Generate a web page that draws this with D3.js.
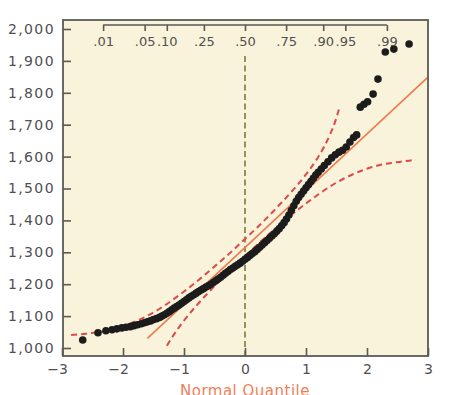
<!DOCTYPE html>
<html>
<head>
<meta charset="utf-8">
<script src="https://cdn.jsdelivr.net/npm/d3@7"></script>
<style>
  body { margin: 0; background: #fff; }
  text { font-family: "DejaVu Sans", sans-serif; }
</style>
</head>
<body>
<script>
const quantiles = [
  -2.66, -2.41, -2.28, -2.18, -2.10, -2.02, -1.95, -1.88, -1.82, -1.76,
  -1.70, -1.65, -1.60, -1.55, -1.50, -1.45, -1.40, -1.36, -1.32, -1.28,
  -1.24, -1.20, -1.16, -1.12, -1.08, -1.04, -1.00, -0.96, -0.92, -0.88,
  -0.84, -0.80, -0.76, -0.72, -0.68, -0.64, -0.60, -0.56, -0.52, -0.48,
  -0.44, -0.40, -0.36, -0.32, -0.28, -0.24, -0.20, -0.16, -0.12, -0.08,
  -0.04, 0.00, 0.04, 0.08, 0.12, 0.16, 0.20, 0.24, 0.28, 0.32,
  0.36, 0.40, 0.44, 0.48, 0.52, 0.56, 0.60, 0.64, 0.68, 0.72,
  0.76, 0.80, 0.84, 0.88, 0.92, 0.96, 1.00, 1.04, 1.08, 1.12,
  1.16, 1.20, 1.25, 1.30, 1.36, 1.42, 1.48, 1.54, 1.60, 1.66,
  1.72, 1.78, 1.83, 1.89, 1.95, 2.01, 2.10, 2.18, 2.30, 2.44, 2.69
];
const values = [
  1025, 1048, 1054, 1057, 1060, 1063, 1065, 1067, 1070, 1073,
  1076, 1079, 1082, 1085, 1089, 1092, 1096, 1100, 1104, 1109,
  1114, 1120, 1125, 1130, 1135, 1140, 1146, 1151, 1157, 1162,
  1167, 1172, 1177, 1182, 1186, 1191, 1195, 1200, 1205, 1211,
  1216, 1222, 1228, 1234, 1240, 1246, 1251, 1256, 1261, 1266,
  1272, 1278, 1284, 1290, 1296, 1302, 1309, 1316, 1323, 1330,
  1337, 1344, 1351, 1358, 1366, 1374, 1383, 1393, 1404, 1417,
  1432, 1446, 1460, 1472, 1482, 1492, 1502, 1512, 1522, 1532,
  1542, 1551, 1561, 1572, 1584, 1596, 1606, 1614, 1620, 1630,
  1646, 1660, 1668, 1755, 1764, 1772, 1796, 1843, 1928, 1937, 1953
];

// fitted reference line (two ends)
const fitZ = [-1.6, 3.0];
const fitY = [1030, 1849];

// confidence band curves
const upperZ = [-2.85, -2.6, -2.4, -2.2, -2.0, -1.8, -1.6, -1.4, -1.2, -1.0, -0.8, -0.6, -0.4, -0.2, 0, 0.2, 0.4, 0.6, 0.8, 1.0, 1.1, 1.2, 1.3, 1.4, 1.47, 1.55];
const upperY = [1041, 1045, 1050, 1057, 1068, 1083, 1101, 1123, 1149, 1177, 1207, 1239, 1272, 1306, 1342, 1378, 1416, 1456, 1498, 1544, 1570, 1599, 1632, 1672, 1705, 1755];
const lowerZ = [-1.28, -1.2, -1.0, -0.8, -0.6, -0.4, -0.2, 0, 0.2, 0.4, 0.6, 0.8, 1.0, 1.2, 1.4, 1.6, 1.8, 2.0, 2.2, 2.4, 2.6, 2.8];
const lowerY = [1007, 1032, 1086, 1132, 1174, 1214, 1252, 1288, 1324, 1358, 1391, 1423, 1453, 1481, 1507, 1529, 1547, 1562, 1573, 1580, 1585, 1590];

// probability scale along the top
const probLabels = [".01", ".05", ".10", ".25", ".50", ".75", ".90", ".95", ".99"];
const probZ = [-2.326, -1.645, -1.282, -0.674, 0, 0.674, 1.282, 1.645, 2.326];

const xTicks = [-3, -2, -1, 0, 1, 2, 3];
const yTicks = [1000, 1100, 1200, 1300, 1400, 1500, 1600, 1700, 1800, 1900, 2000];

const W = 464, H = 395;
const frame = { left: 63, right: 428, top: 20, bottom: 356 };

const svg = d3.select("body").append("svg")
  .attr("width", W)
  .attr("height", H);

const x = d3.scaleLinear().domain([-3, 3]).range([62, 428]);
const y = d3.scaleLinear().domain([1000, 2000]).range([348, 29]);

// plot background
svg.append("rect")
  .attr("x", frame.left).attr("y", frame.top)
  .attr("width", frame.right - frame.left)
  .attr("height", frame.bottom - frame.top)
  .attr("fill", "#f8f3da");

svg.append("clipPath").attr("id", "clip")
  .append("rect")
  .attr("x", frame.left).attr("y", frame.top)
  .attr("width", frame.right - frame.left)
  .attr("height", frame.bottom - frame.top);

const plot = svg.append("g").attr("clip-path", "url(#clip)");

// vertical dashed line at median
plot.append("line")
  .attr("x1", x(0)).attr("x2", x(0))
  .attr("y1", 56).attr("y2", frame.bottom)
  .attr("stroke", "#7a7a3c")
  .attr("stroke-width", 1.6)
  .attr("stroke-dasharray", "6,3.5");

const line = d3.line()
  .x(d => x(d[0]))
  .y(d => y(d[1]))
  .curve(d3.curveMonotoneX);

// confidence bands
[[upperZ, upperY], [lowerZ, lowerY]].forEach(([zs, ys]) => {
  plot.append("path")
    .datum(d3.zip(zs, ys))
    .attr("d", line)
    .attr("fill", "none")
    .attr("stroke", "#de4a4a")
    .attr("stroke-width", 2)
    .attr("stroke-dasharray", "6,4");
});

// fitted line
plot.append("path")
  .datum(d3.zip(fitZ, fitY))
  .attr("d", d3.line().x(d => x(d[0])).y(d => y(d[1])))
  .attr("stroke", "#f07a4e")
  .attr("stroke-width", 1.6)
  .attr("fill", "none");

// points
plot.selectAll(".pt")
  .data(d3.zip(quantiles, values))
  .enter()
  .append("circle")
  .attr("class", "pt")
  .attr("cx", d => x(d[0]))
  .attr("cy", d => y(d[1]))
  .attr("r", 3.8)
  .attr("fill", "#1c1c1c");

// frame
svg.append("rect")
  .attr("x", frame.left).attr("y", frame.top)
  .attr("width", frame.right - frame.left)
  .attr("height", frame.bottom - frame.top)
  .attr("fill", "none")
  .attr("stroke", "#5a5a55")
  .attr("stroke-width", 1.8);

// left axis, ticks pointing in
const yAxis = svg.append("g")
  .attr("transform", `translate(${frame.left},0)`)
  .call(d3.axisLeft(y).tickValues(yTicks).tickFormat(d3.format(",")).tickSize(-8).tickPadding(8));
yAxis.select(".domain").remove();
yAxis.selectAll("line").attr("stroke", "#5a5a55").attr("stroke-width", 1.6);
yAxis.selectAll("text")
  .attr("fill", "#505050")
  .style("font-size", "14px")
  .style("letter-spacing", "1.4px");

// bottom axis, ticks pointing in
const xAxis = svg.append("g")
  .attr("transform", `translate(0,${frame.bottom})`)
  .call(d3.axisBottom(x).tickValues(xTicks).tickFormat(d3.format("d")).tickSize(-8).tickPadding(8));
xAxis.select(".domain").remove();
xAxis.selectAll("line").attr("stroke", "#5a5a55").attr("stroke-width", 1.6);
xAxis.selectAll("text")
  .attr("fill", "#505050")
  .attr("x", d => d < 0 ? -5 : 0)
  .style("font-size", "14px");

// probability axis on top
const pAxis = svg.append("g")
  .attr("transform", "translate(0,25)")
  .call(d3.axisBottom(x).tickValues(probZ).tickFormat((d, i) => probLabels[i]).tickSize(6).tickPadding(6));
pAxis.select(".domain").remove();
pAxis.append("line")
  .attr("x1", x(probZ[0])).attr("x2", x(probZ[probZ.length - 1]))
  .attr("y1", 0).attr("y2", 0)
  .attr("stroke", "#5a5a55").attr("stroke-width", 1.6);
pAxis.selectAll(".tick line").attr("stroke", "#5a5a55").attr("stroke-width", 1.6);
pAxis.selectAll("text")
  .attr("fill", "#505050")
  .style("font-size", "13px");

// axis title (cut by the bottom edge, as in the original)
svg.append("text")
  .attr("x", x(0))
  .attr("y", 396)
  .attr("text-anchor", "middle")
  .attr("fill", "#f08058")
  .style("font-size", "15px")
  .style("letter-spacing", "0.5px")
  .text("Normal Quantile");
</script>
</body>
</html>
